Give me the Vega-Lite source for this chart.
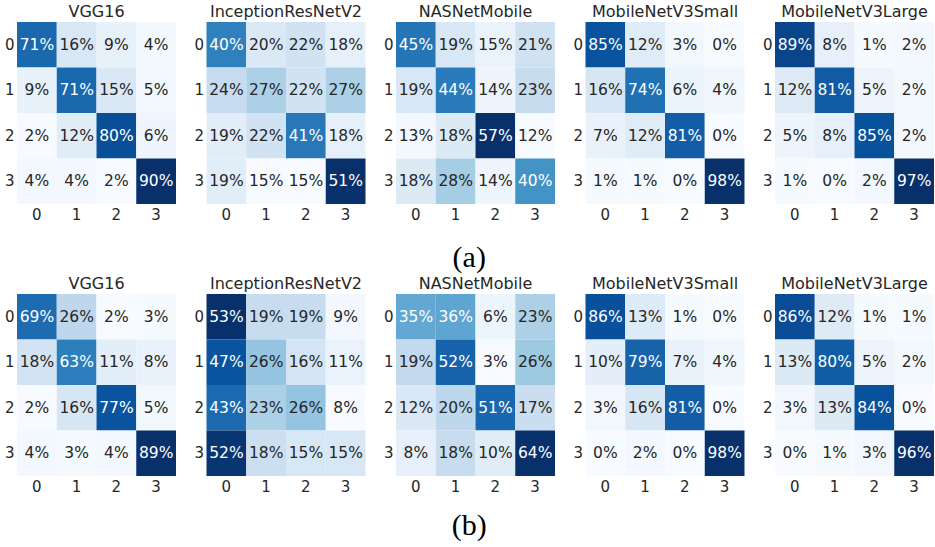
{
  "$schema": "https://vega.github.io/schema/vega-lite/v6.json",
  "background": "white",
  "padding": {"left": 4, "top": 4, "right": 0, "bottom": 4},
  "config": {
    "font": "DejaVu Sans",
    "view": {"stroke": null},
    "axis": {"domain": false, "ticks": false, "title": null, "labelFontSize": 15, "labelColor": "#262626", "labelFont": "DejaVu Sans", "grid": false},
    "header": {"labelFontSize": 16, "labelColor": "#262626", "labelFont": "DejaVu Sans", "labelPadding": 2, "title": null},
    "title": {"font": "Liberation Serif", "fontSize": 30, "fontWeight": "normal", "color": "#000000", "orient": "bottom", "anchor": "middle"}
  },
  "datasets": {
    "cm": [
      {"s":"a","m":"VGG16","t":0,"p":0,"v":71},{"s":"a","m":"VGG16","t":0,"p":1,"v":16},{"s":"a","m":"VGG16","t":0,"p":2,"v":9},{"s":"a","m":"VGG16","t":0,"p":3,"v":4},
      {"s":"a","m":"VGG16","t":1,"p":0,"v":9},{"s":"a","m":"VGG16","t":1,"p":1,"v":71},{"s":"a","m":"VGG16","t":1,"p":2,"v":15},{"s":"a","m":"VGG16","t":1,"p":3,"v":5},
      {"s":"a","m":"VGG16","t":2,"p":0,"v":2},{"s":"a","m":"VGG16","t":2,"p":1,"v":12},{"s":"a","m":"VGG16","t":2,"p":2,"v":80},{"s":"a","m":"VGG16","t":2,"p":3,"v":6},
      {"s":"a","m":"VGG16","t":3,"p":0,"v":4},{"s":"a","m":"VGG16","t":3,"p":1,"v":4},{"s":"a","m":"VGG16","t":3,"p":2,"v":2},{"s":"a","m":"VGG16","t":3,"p":3,"v":90},
      {"s":"a","m":"InceptionResNetV2","t":0,"p":0,"v":40},{"s":"a","m":"InceptionResNetV2","t":0,"p":1,"v":20},{"s":"a","m":"InceptionResNetV2","t":0,"p":2,"v":22},{"s":"a","m":"InceptionResNetV2","t":0,"p":3,"v":18},
      {"s":"a","m":"InceptionResNetV2","t":1,"p":0,"v":24},{"s":"a","m":"InceptionResNetV2","t":1,"p":1,"v":27},{"s":"a","m":"InceptionResNetV2","t":1,"p":2,"v":22},{"s":"a","m":"InceptionResNetV2","t":1,"p":3,"v":27},
      {"s":"a","m":"InceptionResNetV2","t":2,"p":0,"v":19},{"s":"a","m":"InceptionResNetV2","t":2,"p":1,"v":22},{"s":"a","m":"InceptionResNetV2","t":2,"p":2,"v":41},{"s":"a","m":"InceptionResNetV2","t":2,"p":3,"v":18},
      {"s":"a","m":"InceptionResNetV2","t":3,"p":0,"v":19},{"s":"a","m":"InceptionResNetV2","t":3,"p":1,"v":15},{"s":"a","m":"InceptionResNetV2","t":3,"p":2,"v":15},{"s":"a","m":"InceptionResNetV2","t":3,"p":3,"v":51},
      {"s":"a","m":"NASNetMobile","t":0,"p":0,"v":45},{"s":"a","m":"NASNetMobile","t":0,"p":1,"v":19},{"s":"a","m":"NASNetMobile","t":0,"p":2,"v":15},{"s":"a","m":"NASNetMobile","t":0,"p":3,"v":21},
      {"s":"a","m":"NASNetMobile","t":1,"p":0,"v":19},{"s":"a","m":"NASNetMobile","t":1,"p":1,"v":44},{"s":"a","m":"NASNetMobile","t":1,"p":2,"v":14},{"s":"a","m":"NASNetMobile","t":1,"p":3,"v":23},
      {"s":"a","m":"NASNetMobile","t":2,"p":0,"v":13},{"s":"a","m":"NASNetMobile","t":2,"p":1,"v":18},{"s":"a","m":"NASNetMobile","t":2,"p":2,"v":57},{"s":"a","m":"NASNetMobile","t":2,"p":3,"v":12},
      {"s":"a","m":"NASNetMobile","t":3,"p":0,"v":18},{"s":"a","m":"NASNetMobile","t":3,"p":1,"v":28},{"s":"a","m":"NASNetMobile","t":3,"p":2,"v":14},{"s":"a","m":"NASNetMobile","t":3,"p":3,"v":40},
      {"s":"a","m":"MobileNetV3Small","t":0,"p":0,"v":85},{"s":"a","m":"MobileNetV3Small","t":0,"p":1,"v":12},{"s":"a","m":"MobileNetV3Small","t":0,"p":2,"v":3},{"s":"a","m":"MobileNetV3Small","t":0,"p":3,"v":0},
      {"s":"a","m":"MobileNetV3Small","t":1,"p":0,"v":16},{"s":"a","m":"MobileNetV3Small","t":1,"p":1,"v":74},{"s":"a","m":"MobileNetV3Small","t":1,"p":2,"v":6},{"s":"a","m":"MobileNetV3Small","t":1,"p":3,"v":4},
      {"s":"a","m":"MobileNetV3Small","t":2,"p":0,"v":7},{"s":"a","m":"MobileNetV3Small","t":2,"p":1,"v":12},{"s":"a","m":"MobileNetV3Small","t":2,"p":2,"v":81},{"s":"a","m":"MobileNetV3Small","t":2,"p":3,"v":0},
      {"s":"a","m":"MobileNetV3Small","t":3,"p":0,"v":1},{"s":"a","m":"MobileNetV3Small","t":3,"p":1,"v":1},{"s":"a","m":"MobileNetV3Small","t":3,"p":2,"v":0},{"s":"a","m":"MobileNetV3Small","t":3,"p":3,"v":98},
      {"s":"a","m":"MobileNetV3Large","t":0,"p":0,"v":89},{"s":"a","m":"MobileNetV3Large","t":0,"p":1,"v":8},{"s":"a","m":"MobileNetV3Large","t":0,"p":2,"v":1},{"s":"a","m":"MobileNetV3Large","t":0,"p":3,"v":2},
      {"s":"a","m":"MobileNetV3Large","t":1,"p":0,"v":12},{"s":"a","m":"MobileNetV3Large","t":1,"p":1,"v":81},{"s":"a","m":"MobileNetV3Large","t":1,"p":2,"v":5},{"s":"a","m":"MobileNetV3Large","t":1,"p":3,"v":2},
      {"s":"a","m":"MobileNetV3Large","t":2,"p":0,"v":5},{"s":"a","m":"MobileNetV3Large","t":2,"p":1,"v":8},{"s":"a","m":"MobileNetV3Large","t":2,"p":2,"v":85},{"s":"a","m":"MobileNetV3Large","t":2,"p":3,"v":2},
      {"s":"a","m":"MobileNetV3Large","t":3,"p":0,"v":1},{"s":"a","m":"MobileNetV3Large","t":3,"p":1,"v":0},{"s":"a","m":"MobileNetV3Large","t":3,"p":2,"v":2},{"s":"a","m":"MobileNetV3Large","t":3,"p":3,"v":97},
      {"s":"b","m":"VGG16","t":0,"p":0,"v":69},{"s":"b","m":"VGG16","t":0,"p":1,"v":26},{"s":"b","m":"VGG16","t":0,"p":2,"v":2},{"s":"b","m":"VGG16","t":0,"p":3,"v":3},
      {"s":"b","m":"VGG16","t":1,"p":0,"v":18},{"s":"b","m":"VGG16","t":1,"p":1,"v":63},{"s":"b","m":"VGG16","t":1,"p":2,"v":11},{"s":"b","m":"VGG16","t":1,"p":3,"v":8},
      {"s":"b","m":"VGG16","t":2,"p":0,"v":2},{"s":"b","m":"VGG16","t":2,"p":1,"v":16},{"s":"b","m":"VGG16","t":2,"p":2,"v":77},{"s":"b","m":"VGG16","t":2,"p":3,"v":5},
      {"s":"b","m":"VGG16","t":3,"p":0,"v":4},{"s":"b","m":"VGG16","t":3,"p":1,"v":3},{"s":"b","m":"VGG16","t":3,"p":2,"v":4},{"s":"b","m":"VGG16","t":3,"p":3,"v":89},
      {"s":"b","m":"InceptionResNetV2","t":0,"p":0,"v":53},{"s":"b","m":"InceptionResNetV2","t":0,"p":1,"v":19},{"s":"b","m":"InceptionResNetV2","t":0,"p":2,"v":19},{"s":"b","m":"InceptionResNetV2","t":0,"p":3,"v":9},
      {"s":"b","m":"InceptionResNetV2","t":1,"p":0,"v":47},{"s":"b","m":"InceptionResNetV2","t":1,"p":1,"v":26},{"s":"b","m":"InceptionResNetV2","t":1,"p":2,"v":16},{"s":"b","m":"InceptionResNetV2","t":1,"p":3,"v":11},
      {"s":"b","m":"InceptionResNetV2","t":2,"p":0,"v":43},{"s":"b","m":"InceptionResNetV2","t":2,"p":1,"v":23},{"s":"b","m":"InceptionResNetV2","t":2,"p":2,"v":26},{"s":"b","m":"InceptionResNetV2","t":2,"p":3,"v":8},
      {"s":"b","m":"InceptionResNetV2","t":3,"p":0,"v":52},{"s":"b","m":"InceptionResNetV2","t":3,"p":1,"v":18},{"s":"b","m":"InceptionResNetV2","t":3,"p":2,"v":15},{"s":"b","m":"InceptionResNetV2","t":3,"p":3,"v":15},
      {"s":"b","m":"NASNetMobile","t":0,"p":0,"v":35},{"s":"b","m":"NASNetMobile","t":0,"p":1,"v":36},{"s":"b","m":"NASNetMobile","t":0,"p":2,"v":6},{"s":"b","m":"NASNetMobile","t":0,"p":3,"v":23},
      {"s":"b","m":"NASNetMobile","t":1,"p":0,"v":19},{"s":"b","m":"NASNetMobile","t":1,"p":1,"v":52},{"s":"b","m":"NASNetMobile","t":1,"p":2,"v":3},{"s":"b","m":"NASNetMobile","t":1,"p":3,"v":26},
      {"s":"b","m":"NASNetMobile","t":2,"p":0,"v":12},{"s":"b","m":"NASNetMobile","t":2,"p":1,"v":20},{"s":"b","m":"NASNetMobile","t":2,"p":2,"v":51},{"s":"b","m":"NASNetMobile","t":2,"p":3,"v":17},
      {"s":"b","m":"NASNetMobile","t":3,"p":0,"v":8},{"s":"b","m":"NASNetMobile","t":3,"p":1,"v":18},{"s":"b","m":"NASNetMobile","t":3,"p":2,"v":10},{"s":"b","m":"NASNetMobile","t":3,"p":3,"v":64},
      {"s":"b","m":"MobileNetV3Small","t":0,"p":0,"v":86},{"s":"b","m":"MobileNetV3Small","t":0,"p":1,"v":13},{"s":"b","m":"MobileNetV3Small","t":0,"p":2,"v":1},{"s":"b","m":"MobileNetV3Small","t":0,"p":3,"v":0},
      {"s":"b","m":"MobileNetV3Small","t":1,"p":0,"v":10},{"s":"b","m":"MobileNetV3Small","t":1,"p":1,"v":79},{"s":"b","m":"MobileNetV3Small","t":1,"p":2,"v":7},{"s":"b","m":"MobileNetV3Small","t":1,"p":3,"v":4},
      {"s":"b","m":"MobileNetV3Small","t":2,"p":0,"v":3},{"s":"b","m":"MobileNetV3Small","t":2,"p":1,"v":16},{"s":"b","m":"MobileNetV3Small","t":2,"p":2,"v":81},{"s":"b","m":"MobileNetV3Small","t":2,"p":3,"v":0},
      {"s":"b","m":"MobileNetV3Small","t":3,"p":0,"v":0},{"s":"b","m":"MobileNetV3Small","t":3,"p":1,"v":2},{"s":"b","m":"MobileNetV3Small","t":3,"p":2,"v":0},{"s":"b","m":"MobileNetV3Small","t":3,"p":3,"v":98},
      {"s":"b","m":"MobileNetV3Large","t":0,"p":0,"v":86},{"s":"b","m":"MobileNetV3Large","t":0,"p":1,"v":12},{"s":"b","m":"MobileNetV3Large","t":0,"p":2,"v":1},{"s":"b","m":"MobileNetV3Large","t":0,"p":3,"v":1},
      {"s":"b","m":"MobileNetV3Large","t":1,"p":0,"v":13},{"s":"b","m":"MobileNetV3Large","t":1,"p":1,"v":80},{"s":"b","m":"MobileNetV3Large","t":1,"p":2,"v":5},{"s":"b","m":"MobileNetV3Large","t":1,"p":3,"v":2},
      {"s":"b","m":"MobileNetV3Large","t":2,"p":0,"v":3},{"s":"b","m":"MobileNetV3Large","t":2,"p":1,"v":13},{"s":"b","m":"MobileNetV3Large","t":2,"p":2,"v":84},{"s":"b","m":"MobileNetV3Large","t":2,"p":3,"v":0},
      {"s":"b","m":"MobileNetV3Large","t":3,"p":0,"v":0},{"s":"b","m":"MobileNetV3Large","t":3,"p":1,"v":1},{"s":"b","m":"MobileNetV3Large","t":3,"p":2,"v":3},{"s":"b","m":"MobileNetV3Large","t":3,"p":3,"v":96}
    ]
  },
  "spacing": 3,
  "vconcat": [
    {
      "data": {"name": "cm"},
      "transform": [
        {"filter": "datum.s === 'a'"},
        {"joinaggregate": [{"op": "min", "field": "v", "as": "mn"}, {"op": "max", "field": "v", "as": "mx"}], "groupby": ["m"]},
        {"calculate": "datum.v + '%'", "as": "label"}
      ],
      "title": {"text": "(a)", "offset": 21},
      "facet": {"column": {"field": "m", "type": "nominal", "sort": ["VGG16", "InceptionResNetV2", "NASNetMobile", "MobileNetV3Small", "MobileNetV3Large"], "header": {"title": null}}},
      "spacing": 30.5,
      "bounds": "flush",
      "resolve": {"scale": {"color": "independent"}, "axis": {"y": "independent"}},
      "spec": {
        "width": 159,
        "height": 182,
        "encoding": {
          "x": {"field": "p", "type": "ordinal", "axis": {"labelAngle": 0, "labelPadding": 3}},
          "y": {"field": "t", "type": "ordinal", "axis": {"labelPadding": 3}}
        },
        "layer": [
          {"mark": {"type": "rect"}, "encoding": {"color": {"field": "v", "type": "quantitative", "legend": null, "scale": {"zero": false, "nice": false, "range": ["#f7fbff", "#deebf7", "#c6dbef", "#9ecae1", "#6baed6", "#4292c6", "#2171b5", "#08519c", "#08306b"]}}}},
          {"mark": {"type": "text", "fontSize": 15.5, "font": "DejaVu Sans"}, "encoding": {"text": {"field": "label", "type": "nominal"}, "color": {"condition": {"test": "(datum.v - datum.mn) / (datum.mx - datum.mn) > 0.45", "value": "#ffffff"}, "value": "#262626"}}}
        ]
      }
    },
    {
      "data": {"name": "cm"},
      "transform": [
        {"filter": "datum.s === 'b'"},
        {"joinaggregate": [{"op": "min", "field": "v", "as": "mn"}, {"op": "max", "field": "v", "as": "mx"}], "groupby": ["m"]},
        {"calculate": "datum.v + '%'", "as": "label"}
      ],
      "title": {"text": "(b)", "offset": 17},
      "facet": {"column": {"field": "m", "type": "nominal", "sort": ["VGG16", "InceptionResNetV2", "NASNetMobile", "MobileNetV3Small", "MobileNetV3Large"], "header": {"title": null}}},
      "spacing": 30.5,
      "bounds": "flush",
      "resolve": {"scale": {"color": "independent"}, "axis": {"y": "independent"}},
      "spec": {
        "width": 159,
        "height": 182,
        "encoding": {
          "x": {"field": "p", "type": "ordinal", "axis": {"labelAngle": 0, "labelPadding": 3}},
          "y": {"field": "t", "type": "ordinal", "axis": {"labelPadding": 3}}
        },
        "layer": [
          {"mark": {"type": "rect"}, "encoding": {"color": {"field": "v", "type": "quantitative", "legend": null, "scale": {"zero": false, "nice": false, "range": ["#f7fbff", "#deebf7", "#c6dbef", "#9ecae1", "#6baed6", "#4292c6", "#2171b5", "#08519c", "#08306b"]}}}},
          {"mark": {"type": "text", "fontSize": 15.5, "font": "DejaVu Sans"}, "encoding": {"text": {"field": "label", "type": "nominal"}, "color": {"condition": {"test": "(datum.v - datum.mn) / (datum.mx - datum.mn) > 0.45", "value": "#ffffff"}, "value": "#262626"}}}
        ]
      }
    }
  ]
}
